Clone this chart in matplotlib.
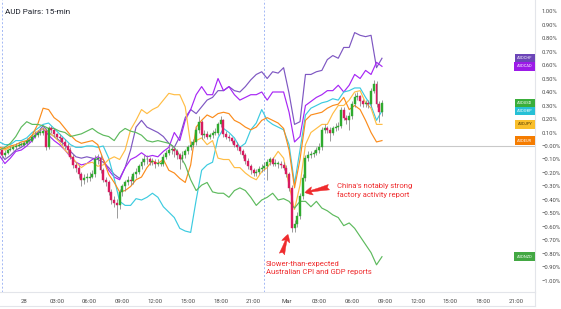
import numpy as np
import matplotlib
matplotlib.use('Agg')
import matplotlib.pyplot as plt
import matplotlib.transforms as mtransforms
from matplotlib.lines import Line2D

plt.rcParams['font.family'] = ['Roboto', 'DejaVu Sans']

# Time axis: hours relative to 28 Feb 00:00, candles every 15 min, compare lines every 30 min
BAR_START = -2.25
BAR_STEP = 0.25
LINE_STEP = 0.5

# AUDUSD 15-min candles (% change)
audusd_first_open = -0.02
audusd_close = [
    -0.03, -0.07, -0.05, -0.03, -0.02, -0.01, 0.00, 0.01, 0.01, 0.02,
    0.04, 0.04, 0.07, 0.08, 0.10, 0.10, 0.11, -0.01, 0.13, 0.12,
    0.09, 0.07, 0.06, 0.03, 0.00, -0.03, -0.08, -0.14, -0.16, -0.21,
    -0.25, -0.24, -0.24, -0.23, -0.21, -0.10, -0.09, -0.18, -0.25, -0.27,
    -0.34, -0.40, -0.42, -0.44, -0.34, -0.30, -0.27, -0.25, -0.26, -0.21,
    -0.19, -0.15, -0.12, -0.10, -0.10, -0.12, -0.12, -0.13, -0.13, -0.13,
    -0.08, -0.05, -0.03, -0.02, -0.04, -0.07, -0.10, -0.07, -0.04, -0.01,
    0.01, 0.03, 0.12, 0.18, 0.08, 0.09, 0.07, 0.08, 0.10, 0.10,
    0.16, 0.19, 0.09, 0.07, 0.06, 0.04, 0.01, -0.01, -0.04, -0.07,
    -0.11, -0.15, -0.18, -0.20, -0.19, -0.17, -0.16, -0.15, -0.12, -0.10,
    -0.13, -0.13, -0.13, -0.14, -0.16, -0.21, -0.31, -0.61, -0.58, -0.52,
    -0.37, -0.24, -0.09, -0.07, -0.06, -0.05, -0.03, -0.01, 0.12, 0.13,
    0.12, 0.10, 0.13, 0.14, 0.15, 0.27, 0.21, 0.19, 0.22, 0.31,
    0.36, 0.37, 0.33, 0.31, 0.32, 0.31, 0.41, 0.46, 0.31, 0.25,
    0.32,
]
audusd_high = [
    0.00, -0.02, -0.03, -0.02, 0.00, 0.01, 0.02, 0.03, 0.03, 0.04,
    0.06, 0.06, 0.09, 0.11, 0.12, 0.13, 0.14, 0.13, 0.15, 0.15,
    0.13, 0.10, 0.09, 0.07, 0.05, 0.02, -0.01, -0.06, -0.12, -0.14,
    -0.19, -0.21, -0.20, -0.19, -0.18, -0.07, -0.06, -0.07, -0.16, -0.23,
    -0.25, -0.32, -0.37, -0.39, -0.32, -0.28, -0.25, -0.22, -0.22, -0.19,
    -0.16, -0.13, -0.09, -0.07, -0.07, -0.08, -0.09, -0.10, -0.10, -0.11,
    -0.06, -0.03, 0.00, 0.01, 0.00, -0.02, -0.05, -0.04, -0.02, 0.01,
    0.04, 0.05, 0.14, 0.22, 0.19, 0.12, 0.11, 0.10, 0.12, 0.13,
    0.18, 0.22, 0.20, 0.11, 0.09, 0.07, 0.05, 0.03, 0.00, -0.02,
    -0.05, -0.09, -0.13, -0.16, -0.17, -0.15, -0.13, -0.12, -0.10, -0.08,
    -0.08, -0.10, -0.11, -0.11, -0.12, -0.14, -0.19, -0.29, -0.55, -0.49,
    -0.35, -0.21, -0.07, -0.04, -0.04, -0.03, -0.01, 0.02, 0.14, 0.16,
    0.15, 0.14, 0.15, 0.17, 0.18, 0.29, 0.29, 0.23, 0.25, 0.33,
    0.39, 0.40, 0.38, 0.35, 0.34, 0.34, 0.43, 0.49, 0.48, 0.33,
    0.34,
]
audusd_low = [
    -0.06, -0.09, -0.08, -0.06, -0.04, -0.03, -0.02, -0.01, 0.00, 0.00,
    0.01, 0.02, 0.03, 0.06, 0.07, 0.08, 0.08, -0.03, -0.02, 0.10,
    0.07, 0.05, 0.04, 0.01, -0.02, -0.05, -0.10, -0.16, -0.19, -0.24,
    -0.30, -0.28, -0.27, -0.26, -0.24, -0.23, -0.13, -0.20, -0.27, -0.30,
    -0.36, -0.43, -0.45, -0.53, -0.47, -0.37, -0.33, -0.29, -0.29, -0.28,
    -0.24, -0.21, -0.17, -0.14, -0.13, -0.14, -0.14, -0.16, -0.15, -0.15,
    -0.15, -0.10, -0.07, -0.06, -0.08, -0.10, -0.17, -0.12, -0.09, -0.06,
    -0.03, -0.01, 0.01, 0.10, 0.05, 0.06, 0.05, 0.05, 0.06, 0.08,
    0.08, 0.14, 0.07, 0.05, 0.04, 0.02, -0.01, -0.03, -0.06, -0.09,
    -0.13, -0.17, -0.21, -0.22, -0.22, -0.21, -0.19, -0.18, -0.25, -0.14,
    -0.15, -0.15, -0.16, -0.16, -0.18, -0.23, -0.33, -0.64, -0.64, -0.60,
    -0.54, -0.39, -0.26, -0.11, -0.09, -0.08, -0.07, -0.05, -0.03, 0.10,
    0.10, 0.04, 0.08, 0.11, 0.12, 0.13, 0.19, 0.16, 0.12, 0.20,
    0.29, 0.34, 0.30, 0.29, 0.29, 0.28, 0.29, 0.39, 0.29, 0.18,
    0.22,
]

# Compare symbols (% change, 30-min samples)
audchf = [-0.04, -0.10, -0.07, -0.03, -0.01, 0.02, 0.06, 0.10, 0.15, 0.10,
          0.07, 0.04, 0.01, -0.04, -0.08, -0.09, -0.08, -0.09, -0.10, -0.12,
          -0.16, -0.21, -0.24, -0.16, -0.03, 0.14, 0.19, 0.14, 0.12, 0.10,
          0.07, 0.02, -0.01, 0.07, 0.21, 0.27, 0.24, 0.29, 0.34, 0.36,
          0.41, 0.41, 0.44, 0.41, 0.40, 0.44, 0.49, 0.53, 0.55, 0.50,
          0.55, 0.54, 0.58, 0.39, 0.16, 0.18, 0.53, 0.53, 0.55, 0.56,
          0.64, 0.67, 0.65, 0.73, 0.73, 0.84, 0.82, 0.81, 0.82, 0.58,
          0.65]
audcad = [-0.07, -0.13, -0.09, -0.04, -0.03, 0.00, 0.04, 0.10, 0.13, 0.08,
          0.04, 0.01, -0.03, -0.08, -0.12, -0.14, -0.13, -0.10, -0.08, -0.10,
          -0.18, -0.23, -0.25, -0.16, -0.10, -0.08, -0.05, -0.08, -0.07, -0.08,
          -0.04, -0.01, 0.10, 0.04, 0.19, 0.27, 0.38, 0.44, 0.38, 0.38,
          0.50, 0.41, 0.44, 0.38, 0.34, 0.36, 0.38, 0.38, 0.40, 0.34,
          0.40, 0.40, 0.40, 0.25, 0.03, 0.07, 0.30, 0.33, 0.36, 0.38,
          0.41, 0.41, 0.45, 0.40, 0.45, 0.53, 0.50, 0.56, 0.53, 0.62,
          0.59]
audgbp = [0.03, 0.01, 0.01, 0.04, 0.04, 0.06, 0.10, 0.13, 0.16, 0.17,
          0.13, 0.09, 0.05, 0.01, -0.01, -0.01, 0.00, 0.00, -0.01, 0.00,
          -0.09, -0.24, -0.41, -0.44, -0.44, -0.39, -0.40, -0.38, -0.35, -0.38,
          -0.45, -0.49, -0.53, -0.61, -0.63, -0.64, -0.40, -0.18, -0.14, -0.12,
          0.06, 0.13, 0.10, 0.06, -0.01, 0.02, 0.12, 0.17, 0.27, 0.19,
          0.16, 0.14, 0.12, 0.01, -0.28, -0.03, 0.23, 0.28, 0.30, 0.32,
          0.33, 0.35, 0.34, 0.40, 0.41, 0.43, 0.43, 0.36, 0.30, 0.19,
          0.26]
audjpy = [-0.01, -0.03, -0.01, 0.00, 0.01, 0.04, 0.08, 0.11, 0.13, 0.10,
          0.07, 0.03, -0.03, -0.07, -0.12, -0.16, -0.13, -0.12, -0.15, -0.14,
          -0.10, -0.08, -0.10, -0.03, 0.12, 0.19, 0.27, 0.24, 0.27, 0.29,
          0.34, 0.39, 0.38, 0.38, 0.29, 0.01, 0.04, 0.06, 0.01, 0.04,
          -0.09, -0.10, -0.10, -0.16, -0.16, -0.20, -0.23, -0.25, -0.19, -0.16,
          -0.10, -0.04, -0.09, -0.29, -0.47, -0.29, 0.01, 0.10, 0.13, 0.16,
          0.16, 0.24, 0.30, 0.30, 0.34, 0.40, 0.41, 0.32, 0.28, 0.16,
          0.16]
audeur = [-0.01, -0.02, 0.00, 0.01, 0.03, 0.04, 0.08, 0.16, 0.28, 0.27,
          0.21, 0.18, 0.13, 0.08, 0.04, 0.02, 0.03, 0.04, 0.01, -0.10,
          -0.21, -0.27, -0.34, -0.33, -0.30, -0.25, -0.23, -0.16, -0.11, -0.13,
          -0.10, -0.18, -0.20, -0.24, -0.27, -0.14, 0.14, 0.19, 0.23, 0.21,
          0.24, 0.25, 0.24, 0.19, 0.17, 0.14, 0.12, 0.14, 0.19, 0.21,
          0.19, 0.17, 0.13, -0.03, -0.31, -0.10, 0.19, 0.23, 0.24, 0.25,
          0.28, 0.30, 0.31, 0.36, 0.27, 0.30, 0.27, 0.19, 0.10, 0.03,
          0.04]
audnzd = [-0.03, -0.01, 0.02, 0.07, 0.14, 0.18, 0.16, 0.16, 0.15, 0.13,
          0.13, 0.11, 0.10, 0.07, 0.08, 0.09, 0.11, 0.13, 0.10, 0.08,
          0.07, 0.04, 0.10, 0.13, 0.11, 0.10, 0.08, 0.04, 0.03, 0.04,
          0.03, 0.02, -0.01, -0.07, -0.14, -0.25, -0.33, -0.29, -0.27, -0.34,
          -0.35, -0.35, -0.38, -0.33, -0.31, -0.33, -0.38, -0.44, -0.40, -0.38,
          -0.35, -0.40, -0.39, -0.41, -0.46, -0.41, -0.41, -0.45, -0.41, -0.46,
          -0.48, -0.51, -0.53, -0.59, -0.57, -0.61, -0.67, -0.73, -0.79, -0.88,
          -0.82]

compare_names = ['AUDCHF', 'AUDCAD', 'AUDGBP', 'AUDJPY', 'AUDEUR', 'AUDNZD']
compare_series = [audchf, audcad, audgbp, audjpy, audeur, audnzd]
compare_colors = ['#7e57c2', '#a726f5', '#3ccbe0', '#ffbd45', '#fb8c1c', '#5dba5d']
tag_colors = ['#6c45b8', '#9c1ae8', '#26c0d6', '#f9bf2b', '#f57c00', '#43a843']
tag_text = ['white', 'white', 'white', '#4a3500', 'white', 'white']

tick_hours = list(range(0, 46, 3))
tick_labels = ['28', '03:00', '06:00', '09:00', '12:00', '15:00', '18:00', '21:00',
               'Mar', '03:00', '06:00', '09:00', '12:00', '15:00', '18:00', '21:00']
session_breaks = [-2, 22]

RED = '#ef2b2d'
UP = '#2eaa2e'
DOWN = '#d81b60'

fig = plt.figure(figsize=(5.61, 3.09), dpi=100)
ax = fig.add_axes([0, 17 / 309, 535 / 561, 292 / 309])
ax.set_xlim(-2.196, 46.75)
ax.set_ylim(-1.0815, 1.0815)

ax.axhline(0, color='#c9c9c9', lw=0.8, zorder=1)
for h in session_breaks:
    ax.axvline(h, color='#a3b8f5', lw=0.7, ls=(0, (2, 2)), zorder=1)

line_hours = BAR_START + LINE_STEP * np.arange(len(audchf))
for vals, col in zip(compare_series, compare_colors):
    ax.plot(line_hours, vals, color=col, lw=0.85, zorder=2)

# candles
close = np.array(audusd_close)
opens = np.array([audusd_first_open] + audusd_close[:-1])
bar_hours = BAR_START + BAR_STEP * np.arange(len(close))
ax.vlines(bar_hours, audusd_low, audusd_high, color='#8a8a8a', lw=0.6, zorder=3)
body_bottom = np.minimum(opens, close)
body_height = np.maximum(np.abs(close - opens), 0.007)
body_colors = [UP if c >= o else DOWN for o, c in zip(opens, close)]
ax.bar(bar_hours, body_height, bottom=body_bottom, width=0.18, color=body_colors,
       edgecolor=body_colors, linewidth=0.3, zorder=4)

# price tags on the right edge
trans = mtransforms.blended_transform_factory(ax.transAxes, ax.transData)
tags = [(n, s[-1], c, t) for n, s, c, t in zip(compare_names, compare_series, tag_colors, tag_text)]
tags.append(('AUDUSD', audusd_close[-1], '#3aae3a', 'white'))
for name, val, col, tcol in tags:
    ax.text(0.995, val, name, transform=trans, ha='right', va='center', fontsize=2.9,
            color=tcol, zorder=6,
            bbox=dict(boxstyle='square,pad=0.55', fc=col, ec='none'))

# axes styling
ax.yaxis.tick_right()
yt = np.round(np.arange(-1.0, 1.001, 0.1), 2)
ax.set_yticks(yt)
ax.set_yticklabels([f"{v:.2f}%".replace('-', '\u2212') for v in yt])
ax.set_xticks(tick_hours)
ax.set_xticklabels(tick_labels)
ax.tick_params(axis='y', length=0, pad=5, labelsize=4.2, labelcolor='#4a4a4a')
ax.tick_params(axis='x', length=0, pad=5, labelsize=4.3, labelcolor='#4a4a4a')
for s in ['top', 'left']:
    ax.spines[s].set_visible(False)
for s in ['right', 'bottom']:
    ax.spines[s].set_color('#e3e5ea')
    ax.spines[s].set_linewidth(0.8)
fig.add_artist(Line2D([0, 535 / 561], [3 / 309, 3 / 309], color='#e3e5ea', lw=0.8))
fig.add_artist(Line2D([535 / 561, 535 / 561], [3 / 309, 17 / 309], color='#e3e5ea', lw=0.8))

# title
ax.text(5 / 535, 1 - 12 / 292, 'AUD Pairs: 15-min', transform=ax.transAxes,
        ha='left', va='center', fontsize=5.9, color='#1e222d')

# annotations
arrow_style = 'fancy,head_length=0.55,head_width=0.6,tail_width=0.4'
ax.annotate('', xy=(25.7, -0.345), xytext=(27.9, -0.305),
            arrowprops=dict(arrowstyle=arrow_style, fc=RED, ec=RED, lw=0.3,
                            shrinkA=0, shrinkB=0), zorder=7)
ax.text(28.6, -0.33, "China's notably strong\nfactory activity report", color=RED,
        fontsize=5.5, ha='left', va='center', linespacing=1.45, zorder=7)
ax.annotate('', xy=(24.15, -0.655), xytext=(23.6, -0.80),
            arrowprops=dict(arrowstyle=arrow_style, fc=RED, ec=RED, lw=0.3,
                            shrinkA=0, shrinkB=0), zorder=7)
ax.text(22.1, -0.905, 'Slower-than-expected\nAustralian CPI and GDP reports', color=RED,
        fontsize=5.5, ha='left', va='center', linespacing=1.45, zorder=7)

fig.savefig('out.png', dpi=100)
